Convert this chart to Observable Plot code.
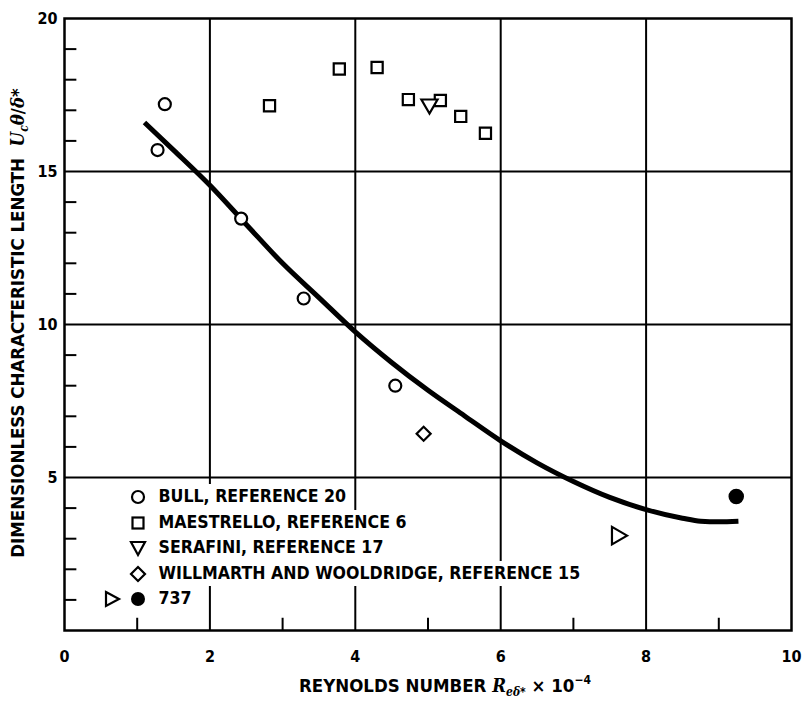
<!DOCTYPE html>
<html>
<head>
<meta charset="utf-8">
<script src="https://cdn.jsdelivr.net/npm/d3@7"></script>
<script src="https://cdn.jsdelivr.net/npm/@observablehq/plot@0.6"></script>
<style>
  html, body { margin: 0; padding: 0; background: #fff; }
  #wrap { position: relative; width: 803px; height: 704px; overflow: hidden;
    font-family: "DejaVu Sans Condensed", "Liberation Sans Narrow", "DejaVu Sans", sans-serif;
    font-stretch: condensed; font-weight: bold; color: #000; }
  .lbl { position: absolute; white-space: nowrap; font-size: 18.5px; font-weight: bold; text-align: center; }
  #xlabel { left: 145px; width: 600px; top: 673px; }
  #ylabel { left: -282px; width: 600px; top: 311px; height: 24px; line-height: 24px; transform: rotate(-90deg); transform-origin: 50% 50%; }
  .lbl i { font-family: "DejaVu Serif", serif; font-style: italic; font-weight: bold; }
  .lbl sub { font-size: 12px; vertical-align: -4px; }
  .lbl sup { font-size: 12px; vertical-align: 8px; }
  #legend { position: absolute; left: 102px; top: 484px; }
  .row { display: block; height: 25.5px; line-height: 25.5px; font-size: 17.6px; white-space: nowrap; }
  .row span.bg { display: inline-block; background: #fff; padding-right: 6px; }
  .row svg { vertical-align: middle; }
</style>
</head>
<body>
<div id="wrap">
  <div id="chart"></div>
  <div id="legend"></div>
  <div id="xlabel" class="lbl">REYNOLDS NUMBER <i>R</i><sub><i>e</i><i>δ</i>*</sub> × 10<sup>−4</sup></div>
  <div id="ylabel" class="lbl">DIMENSIONLESS CHARACTERISTIC LENGTH&nbsp;&nbsp;<i>U</i><sub><i>c</i></sub><i>θ</i>/<i>δ</i>*</div>
</div>
<script>
// ---- data ----
const xTicks = [0, 2, 4, 6, 8, 10];
const yTicks = [5, 10, 15, 20];
const xGrid = [2, 4, 6, 8];
const yGrid = [5, 10, 15];
const xMinor = [1, 3, 5, 7, 9];
const yMinor = [1, 2, 3, 4, 6, 7, 8, 9, 11, 12, 13, 14, 16, 17, 18, 19];

const bullX = [1.38, 1.28, 2.43, 3.29, 4.55];
const bullY = [17.2, 15.7, 13.46, 10.85, 8.0];
const maestrelloX = [2.82, 3.78, 4.30, 4.73, 5.17, 5.45, 5.79];
const maestrelloY = [17.15, 18.35, 18.4, 17.35, 17.32, 16.8, 16.25];
const serafiniX = [5.02];
const serafiniY = [17.2];
const willmarthX = [4.94];
const willmarthY = [6.43];
const b737OpenX = [7.6];
const b737OpenY = [3.1];
const b737FilledX = [9.24];
const b737FilledY = [4.38];

const curveX = [1.1, 1.5, 2.0, 2.5, 3.0, 3.5, 4.0, 4.5, 5.0, 5.5, 6.0, 6.5, 7.0, 7.5, 8.0, 8.5, 8.75, 9.0, 9.27];
const curveY = [16.6, 15.7, 14.55, 13.27, 12.0, 10.88, 9.76, 8.76, 7.85, 7.02, 6.2, 5.48, 4.87, 4.35, 3.95, 3.67, 3.57, 3.55, 3.57];

const legendLabels = [
  "BULL, REFERENCE 20",
  "MAESTRELLO, REFERENCE 6",
  "SERAFINI, REFERENCE 17",
  "WILLMARTH AND WOOLDRIDGE, REFERENCE 15",
  "737"
];

const zip = (xs, ys) => xs.map((x, i) => ({x, y: ys[i]}));
const bull = zip(bullX, bullY);
const maestrello = zip(maestrelloX, maestrelloY);
const serafini = zip(serafiniX, serafiniY);
const willmarth = zip(willmarthX, willmarthY);
const b737Open = zip(b737OpenX, b737OpenY);
const b737Filled = zip(b737FilledX, b737FilledY);
const curve = zip(curveX, curveY);

const font = '"DejaVu Sans Condensed", "Liberation Sans Narrow", "DejaVu Sans", sans-serif';

const chart = Plot.plot({
  width: 803,
  height: 704,
  marginTop: 18,
  marginRight: 12,
  marginBottom: 74,
  marginLeft: 64,
  style: {fontFamily: font, fontSize: "16px", fontWeight: "bold", fontStretch: "condensed", color: "black", background: "white"},
  x: {domain: [0, 10]},
  y: {domain: [0, 20]},
  marks: [
    Plot.gridX(xGrid, {stroke: "black", strokeOpacity: 1, strokeWidth: 2}),
    Plot.gridY(yGrid, {stroke: "black", strokeOpacity: 1, strokeWidth: 2}),
    Plot.ruleX(xMinor, {x: d => d, y1: 0, y2: 0.4, stroke: "black", strokeWidth: 2}),
    Plot.ruleY(yMinor, {y: d => d, x1: 0, x2: 0.17, stroke: "black", strokeWidth: 2}),
    Plot.frame({stroke: "black", strokeWidth: 2.5}),
    Plot.axisX(xTicks, {tickSize: 0, tickPadding: 20, label: null}),
    Plot.axisY(yTicks, {tickSize: 0, tickPadding: 7, label: null}),
    Plot.line(curve, {x: "x", y: "y", curve: "monotone-x", stroke: "black", strokeWidth: 5, strokeLinecap: "butt"}),
    Plot.dot(bull, {x: "x", y: "y", symbol: "circle", r: 6, stroke: "black", fill: "white", strokeWidth: 2.2}),
    Plot.dot(maestrello, {x: "x", y: "y", symbol: "square", r: 6.3, stroke: "black", fill: "white", strokeWidth: 2.2}),
    Plot.dot(serafini, {x: "x", y: "y", symbol: "triangle", rotate: 180, r: 6, stroke: "black", fill: "white", strokeWidth: 2.2}),
    Plot.dot(willmarth, {x: "x", y: "y", symbol: "square", rotate: 45, r: 5.6, stroke: "black", fill: "white", strokeWidth: 2.2}),
    Plot.dot(b737Open, {x: "x", y: "y", symbol: "triangle", rotate: 90, r: 6.5, stroke: "black", fill: "white", strokeWidth: 2.2}),
    Plot.dot(b737Filled, {x: "x", y: "y", symbol: "circle", r: 7, fill: "black", stroke: "black"})
  ]
});
document.getElementById("chart").appendChild(chart);

// ---- legend (HTML overlay) ----
const symSvg = {
  circle: '<svg width="20" height="20" viewBox="-10 -10 20 20"><circle r="6" fill="white" stroke="black" stroke-width="2.2"/></svg>',
  square: '<svg width="20" height="20" viewBox="-10 -10 20 20"><rect x="-5.5" y="-5.5" width="11" height="11" fill="white" stroke="black" stroke-width="2.2"/></svg>',
  tridown: '<svg width="20" height="20" viewBox="-10 -10 20 20"><path d="M-7,-6 L7,-6 L0,7 Z" fill="white" stroke="black" stroke-width="2.2"/></svg>',
  diamond: '<svg width="20" height="20" viewBox="-10 -10 20 20"><path d="M0,-7 L7,0 L0,7 L-7,0 Z" fill="white" stroke="black" stroke-width="2.2"/></svg>',
  triright: '<svg width="20" height="20" viewBox="-10 -10 20 20"><path d="M-6,-7 L7,0 L-6,7 Z" fill="white" stroke="black" stroke-width="2.2"/></svg>',
  filled: '<svg width="20" height="20" viewBox="-10 -10 20 20"><circle r="7" fill="black"/></svg>',
  blank: '<svg width="20" height="20"></svg>'
};
const legendSyms = [
  [symSvg.blank, symSvg.circle],
  [symSvg.blank, symSvg.square],
  [symSvg.blank, symSvg.tridown],
  [symSvg.blank, symSvg.diamond],
  [symSvg.triright, symSvg.filled]
];
const legend = document.getElementById("legend");
legendLabels.forEach((t, i) => {
  const row = document.createElement("div");
  row.className = "row";
  const bg = document.createElement("span");
  bg.className = "bg";
  bg.innerHTML = legendSyms[i][0] + " " + legendSyms[i][1] + "&nbsp;&nbsp;" + t;
  if (i === 4) bg.style.background = "transparent";
  row.appendChild(bg);
  legend.appendChild(row);
});
</script>
</body>
</html>
